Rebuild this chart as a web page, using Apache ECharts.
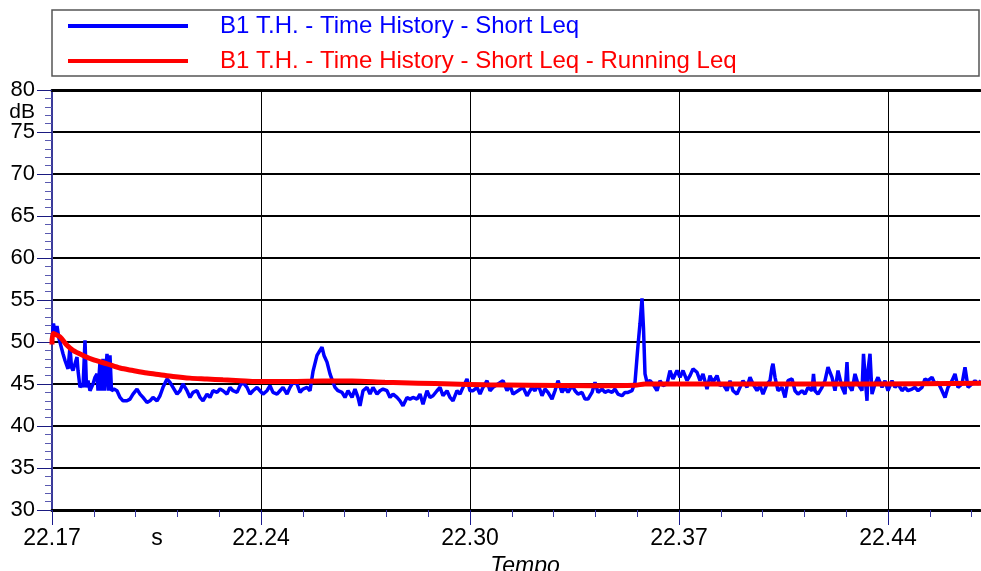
<!DOCTYPE html>
<html>
<head>
<meta charset="utf-8">
<script src="https://cdn.jsdelivr.net/npm/echarts@6/dist/echarts.min.js"></script>
<style>
html,body{margin:0;padding:0;background:#fff;}
#chart{width:981px;height:571px;}
</style>
</head>
<body>
<div id="chart"></div>
<script>
// ---- Data (time in seconds from start) ----
var seriesNames = ['B1 T.H. - Time History - Short Leq', 'B1 T.H. - Time History - Short Leq - Running Leq'];
var majorTickTimes = [0, 418, 836, 1254, 1672];
var majorTickLabels = ['22.17', '22.24', '22.30', '22.37', '22.44'];
var unitLabelTime = 210;
var unitLabel = 's';
var xAxisName = 'Tempo';
var yAxisUnit = 'dB';
var yMin = 30, yMax = 80, yStep = 5;
var xMax = 1856;

var blueTimes = [0,3,6,10,14,18,22,26,32,36,39,42,50,52,56,60,62,66,69,72,76,82,86,90,92,96,99,102,105,110,113,116,119,124,130,136,142,150,156,162,170,176,182,190,196,202,210,216,222,230,236,242,250,256,262,270,276,282,290,296,302,310,316,322,330,336,342,350,356,362,370,376,382,390,396,402,410,416,422,430,436,442,450,456,462,470,476,482,490,496,502,510,516,522,530,536,540,544,550,556,562,566,572,580,586,592,600,606,612,616,622,630,636,642,650,656,662,670,676,682,690,696,702,710,716,722,730,736,742,750,756,762,770,776,782,790,796,802,810,816,822,830,836,842,850,856,862,870,876,882,892,902,910,916,922,932,942,950,956,960,966,972,980,986,992,1000,1006,1012,1020,1026,1032,1040,1046,1052,1060,1066,1072,1080,1086,1092,1100,1106,1112,1120,1126,1132,1140,1146,1152,1160,1166,1172,1176,1180,1183,1186,1190,1196,1202,1210,1216,1222,1230,1236,1242,1250,1256,1262,1270,1276,1282,1290,1296,1302,1310,1316,1322,1330,1336,1342,1350,1356,1362,1370,1376,1382,1390,1396,1402,1410,1416,1422,1430,1436,1440,1442,1446,1452,1460,1466,1472,1480,1486,1492,1500,1506,1512,1520,1523,1526,1532,1540,1546,1552,1560,1566,1572,1580,1586,1590,1592,1600,1606,1612,1620,1623,1626,1630,1632,1636,1640,1646,1652,1660,1666,1672,1680,1686,1692,1700,1706,1712,1720,1726,1732,1740,1746,1752,1760,1766,1772,1780,1786,1792,1800,1806,1812,1820,1826,1832,1840,1846,1852,1858];
var blueValues = [50.2,52.2,51.0,51.9,50.4,50.5,48.6,47.8,46.8,49.4,47.0,46.6,48.2,46.6,44.6,45.0,44.6,50.2,44.6,45.4,44.2,45.0,45.8,46.2,44.2,47.6,44.2,48.0,44.2,48.6,44.2,48.4,44.2,44.4,44.2,43.4,43.0,43.0,43.2,43.8,44.4,43.8,43.4,42.8,43.0,43.4,43.0,43.6,44.6,45.6,45.2,44.6,43.8,44.2,45.0,44.2,43.4,44.0,44.2,43.4,43.0,43.8,43.4,44.2,44.0,44.4,44.2,43.8,44.6,44.2,44.0,44.8,45.2,44.6,43.8,44.2,44.6,44.2,43.8,44.2,44.8,44.0,43.8,44.2,44.6,43.8,44.6,45.2,45.0,44.0,44.4,44.6,44.2,46.5,48.4,49.0,49.4,48.4,47.6,46.2,45.2,44.6,44.2,44.0,43.4,44.2,43.4,44.4,43.4,42.4,44.2,44.6,43.8,44.6,43.8,44.2,44.4,44.2,43.4,43.8,43.4,43.0,42.4,43.4,43.2,43.4,43.2,43.8,42.6,44.2,43.4,43.6,44.2,44.6,43.6,44.2,43.4,43.0,44.2,43.8,44.6,45.6,44.2,44.2,44.6,43.8,44.6,45.4,44.2,44.6,45.0,45.4,44.2,44.8,43.8,44.2,44.6,43.6,44.2,44.6,44.2,45.0,43.6,44.4,44.0,43.2,44.2,45.4,44.0,44.6,44.0,44.8,44.2,43.8,44.0,43.2,43.2,44.0,45.2,44.0,44.4,44.0,44.2,44.0,44.4,43.8,43.6,44.0,44.0,44.2,45.2,49.6,52.2,55.2,51.6,46.2,45.2,45.4,45.0,44.2,45.4,44.8,45.0,46.6,45.6,46.6,45.8,46.6,45.4,46.0,46.8,46.4,45.4,46.2,44.4,46.0,45.2,46.0,44.8,45.0,44.2,45.4,44.2,43.8,44.6,45.4,44.6,45.8,45.0,44.2,44.8,43.8,45.0,45.4,47.0,47.4,45.8,44.2,44.6,43.4,45.4,45.6,44.2,43.8,44.2,43.8,44.6,44.2,46.2,44.2,43.8,44.6,45.4,47.0,45.8,44.2,46.6,44.6,43.8,47.6,45.0,44.2,46.2,45.0,44.2,48.6,46.0,43.0,46.6,48.6,43.8,45.0,45.8,44.6,45.4,44.2,45.4,44.6,45.0,44.2,44.6,44.2,44.4,44.6,44.2,44.6,45.6,45.4,45.8,45.0,45.2,44.2,43.4,44.6,45.4,46.2,44.6,45.0,47.0,44.6,45.0,45.4,45.0,45.4];

var redTimes = [0,2,16,30,42,62,82,110,136,162,190,216,242,276,310,342,376,410,476,542,600,666,732,800,866,956,1080,1166,1186,1280,1436,1642,1858];
var redValues = [49.7,51.0,50.6,49.6,49.0,48.4,47.9,47.4,46.9,46.6,46.3,46.1,45.9,45.7,45.6,45.5,45.4,45.3,45.3,45.35,45.35,45.2,45.1,45.0,44.9,44.85,44.8,44.85,45.0,45.0,45.0,45.0,45.1];

// ---- Build ----
function pairs(t, v){ return t.map(function(x,i){ return [x, v[i]]; }); }
var labelValues = [unitLabelTime].concat(majorTickTimes);
var minorTickTimes = [];
var minorStep = (majorTickTimes[1]-majorTickTimes[0]) / 5;
for (var k = 1; k * minorStep <= xMax; k++) { if (k % 5 !== 0) minorTickTimes.push(+(k*minorStep).toFixed(2)); }

var chart = echarts.init(document.getElementById('chart'), null, {renderer: 'canvas'});
var FONT = 'Liberation Sans, Arial, sans-serif';
chart.setOption({
  animation: false,
  backgroundColor: '#ffffff',
  grid: {left: 52, right: 1, top: 90, bottom: 61, containLabel: false, outerBoundsMode: 'none'},
  legend: {
    orient: 'vertical', left: 68, top: 13, padding: 0, itemGap: 9,
    itemWidth: 120, itemHeight: 4, icon: 'rect', selectedMode: false,
    data: [
      {name: seriesNames[0], textStyle: {color: '#0000ff'}, itemStyle: {color: '#0000ff'}},
      {name: seriesNames[1], textStyle: {color: '#ff0000'}, itemStyle: {color: '#ff0000'}}
    ],
    textStyle: {fontFamily: FONT, fontSize: 24, lineHeight: 24, padding: [2,0,0,27]}
  },
  xAxis: [{
    type: 'value', min: 0, max: xMax, interval: majorTickTimes[1]-majorTickTimes[0], position: 'bottom',
    axisLine: {show: true, lineStyle: {color: '#000', width: 3}},
    axisTick: {show: true, customValues: majorTickTimes, length: 15, lineStyle: {color: '#1a1a8c', width: 1}},
    axisLabel: {
      show: true, customValues: labelValues, margin: 17,
      fontFamily: FONT, fontSize: 23, color: '#000',
      formatter: function(v){
        if (Math.abs(v-unitLabelTime) < 1) return unitLabel;
        var i = majorTickTimes.indexOf(v); return i >= 0 ? majorTickLabels[i] : '';
      }
    },
    splitLine: {show: true, lineStyle: {color: '#000', width: 1}},
    name: xAxisName, nameLocation: 'middle', nameGap: 40,
    nameTextStyle: {fontFamily: FONT, fontSize: 23, fontStyle: 'italic', color: '#000', padding: [0,0,0,18]}
  }, {
    type: 'value', min: 0, max: xMax, position: 'bottom',
    axisLine: {show: false},
    axisTick: {show: true, customValues: minorTickTimes, length: 7, lineStyle: {color: '#3a3aa0', width: 1}},
    axisLabel: {show: false}, splitLine: {show: false}
  }, {
    type: 'value', min: 0, max: xMax, position: 'top',
    axisLine: {show: true, lineStyle: {color: '#000', width: 3}},
    axisTick: {show: false}, axisLabel: {show: false}, splitLine: {show: false}
  }],
  yAxis: {
    type: 'value', min: yMin, max: yMax, interval: yStep,
    axisLine: {show: true, lineStyle: {color: '#3a3a9a', width: 2}},
    axisTick: {show: true, length: 15, lineStyle: {color: '#1a1a80', width: 1}},
    minorTick: {show: true, splitNumber: 5, length: 7, lineStyle: {color: '#5a5ab0', width: 1}},
    axisLabel: {margin: 17, fontFamily: FONT, fontSize: 22, color: '#000'},
    splitLine: {show: true, lineStyle: {color: '#000', width: 2}}
  },
  graphic: [
    {type: 'rect', shape: {x: 52, y: 10, width: 927, height: 66}, style: {fill: 'none', stroke: '#555', lineWidth: 1.5}, z: 0},
    {type: 'text', x: 35, y: 112, style: {text: yAxisUnit, font: '21px ' + FONT, fill: '#000', align: 'right', verticalAlign: 'middle'}}
  ],
  series: [{
    name: seriesNames[0], type: 'line', data: pairs(blueTimes, blueValues),
    showSymbol: false, symbol: 'none', lineStyle: {color: '#0000ff', width: 3.5}, itemStyle: {color: '#0000ff'}, z: 3
  }, {
    name: seriesNames[1], type: 'line', data: pairs(redTimes, redValues), smooth: 0.3,
    showSymbol: false, symbol: 'none', lineStyle: {color: '#ff0000', width: 5}, itemStyle: {color: '#ff0000'}, z: 4
  }]
});
</script>
</body>
</html>
